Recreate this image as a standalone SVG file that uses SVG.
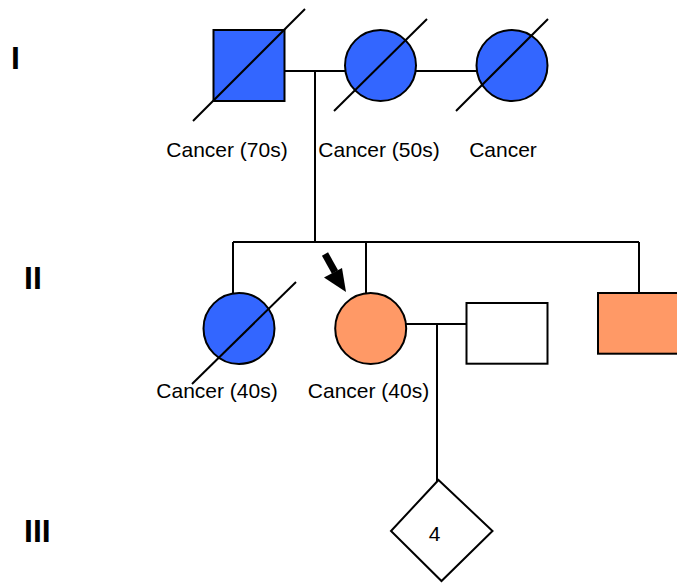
<svg xmlns="http://www.w3.org/2000/svg" width="677" height="583" viewBox="0 0 677 583">
  <style>
    .ln { stroke: #000; stroke-width: 2; fill: none; }
    .node { stroke: #000; stroke-width: 2; }
    .blue { fill: #3366FF; }
    .orange { fill: #FF9966; }
    .white { fill: #FFFFFF; }
    .lbl { font-family: "Liberation Sans", Arial, sans-serif; font-size: 21px; fill: #000; }
    .gen { font-family: "Liberation Sans", Arial, sans-serif; font-size: 32px; font-weight: bold; fill: #000; }
    .num { font-family: "Liberation Sans", Arial, sans-serif; font-size: 21px; fill: #000; }
  </style>
  <rect width="677" height="583" fill="#FFFFFF"/>

  <!-- generation numerals -->
  <text class="gen" x="11" y="69">I</text>
  <text class="gen" x="24" y="289">II</text>
  <text class="gen" x="24" y="542">III</text>

  <!-- connectors -->
  <g id="connectors">
    <!-- generation I partnerships -->
    <line class="ln" x1="284" y1="71" x2="345" y2="71"/>
    <line class="ln" x1="416" y1="71" x2="477" y2="71"/>
    <!-- descent to sibship -->
    <line class="ln" x1="315" y1="71" x2="315" y2="242"/>
    <line class="ln" x1="233" y1="242" x2="639" y2="242"/>
    <line class="ln" x1="233" y1="242" x2="233" y2="293"/>
    <line class="ln" x1="366" y1="242" x2="366" y2="293"/>
    <line class="ln" x1="639" y1="242" x2="639" y2="293"/>
    <!-- generation II partnership and descent -->
    <line class="ln" x1="406" y1="324" x2="466" y2="324"/>
    <line class="ln" x1="437" y1="324" x2="437" y2="481"/>
  </g>

  <!-- generation I -->
  <g id="I-1">
    <rect class="node blue" x="213.5" y="30" width="71" height="71"/>
    <line class="ln" x1="193" y1="121" x2="305" y2="9"/>
    <text class="lbl" x="227" y="157" text-anchor="middle">Cancer (70s)</text>
  </g>
  <g id="I-2">
    <circle class="node blue" cx="380.5" cy="65.5" r="35.5"/>
    <line class="ln" x1="334" y1="111" x2="427" y2="19"/>
    <text class="lbl" x="379" y="157" text-anchor="middle">Cancer (50s)</text>
  </g>
  <g id="I-3">
    <circle class="node blue" cx="512" cy="65.5" r="35.5"/>
    <line class="ln" x1="456" y1="111" x2="548" y2="19"/>
    <text class="lbl" x="503" y="157" text-anchor="middle">Cancer</text>
  </g>

  <!-- generation II -->
  <g id="II-1">
    <circle class="node blue" cx="239" cy="328.5" r="35.5"/>
    <line class="ln" x1="192" y1="384" x2="296" y2="282"/>
    <text class="lbl" x="217" y="398" text-anchor="middle">Cancer (40s)</text>
  </g>
  <g id="II-2">
    <circle class="node orange" cx="370.7" cy="328.5" r="35.5"/>
    <!-- proband arrow -->
    <line x1="325" y1="254" x2="335" y2="272" stroke="#000" stroke-width="7"/>
    <polygon points="324,277.5 342,268 346,292" fill="#000"/>
    <text class="lbl" x="368.5" y="398" text-anchor="middle">Cancer (40s)</text>
  </g>
  <g id="II-3">
    <rect class="node white" x="466.5" y="303" width="81" height="60.7"/>
  </g>
  <g id="II-4">
    <rect class="node orange" x="598" y="293" width="81" height="60.7"/>
  </g>

  <!-- generation III -->
  <g id="III-1">
    <polygon class="node white" points="438.5,480 492.5,531 441.5,581 391,531"/>
    <text class="num" x="434.5" y="541" text-anchor="middle">4</text>
  </g>
</svg>
